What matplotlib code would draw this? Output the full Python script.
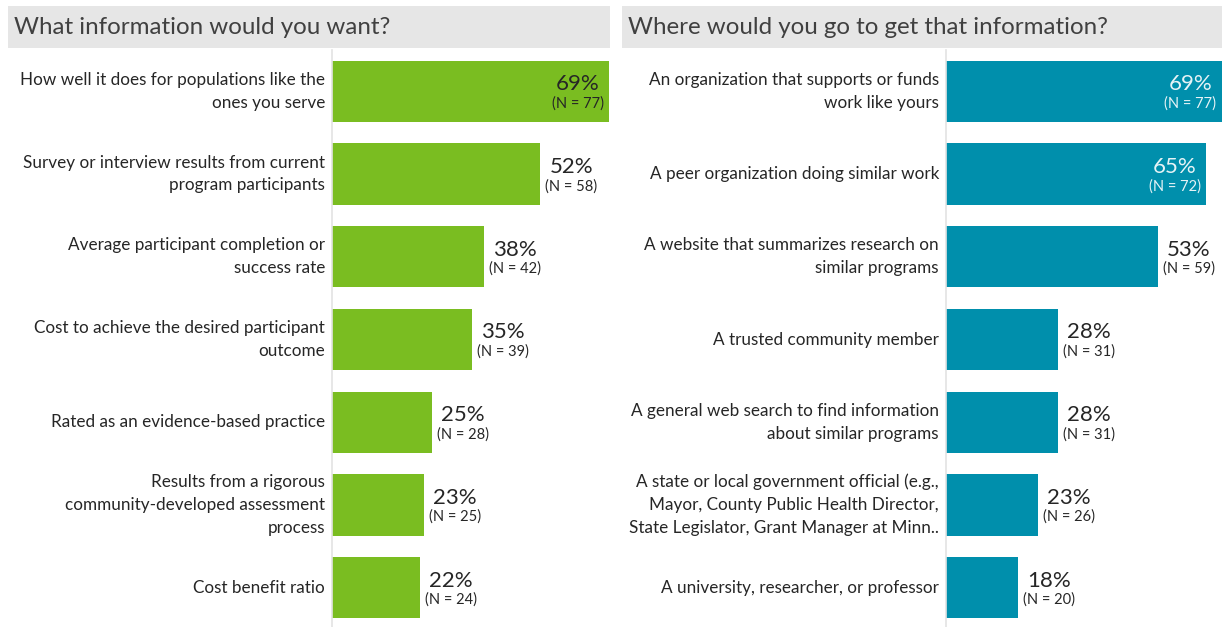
import matplotlib.pyplot as plt
from matplotlib.patches import Rectangle
from matplotlib.transforms import offset_copy

plt.rcParams['font.family'] = ['Lato', 'DejaVu Sans']

# Left panel data
want_labels = [
    "How well it does for populations like the\nones you serve",
    "Survey or interview results from current\nprogram participants",
    "Average participant completion or\nsuccess rate",
    "Cost to achieve the desired participant\noutcome",
    "Rated as an evidence-based practice",
    "Results from a rigorous\ncommunity-developed assessment\nprocess",
    "Cost benefit ratio",
]
want_pct = [69, 52, 38, 35, 25, 23, 22]
want_n = [77, 58, 42, 39, 28, 25, 24]

# Right panel data
where_labels = [
    "An organization that supports or funds\nwork like yours",
    "A peer organization doing similar work",
    "A website that summarizes research on\nsimilar programs",
    "A trusted community member",
    "A general web search to find information\nabout similar programs",
    "A state or local government official (e.g.,\nMayor, County Public Health Director,\nState Legislator, Grant Manager at Minn..",
    "A university, researcher, or professor",
]
where_pct = [69, 65, 53, 28, 28, 23, 18]
where_n = [77, 72, 59, 31, 31, 26, 20]

GREEN = '#7abd21'
TEAL = '#008fac'
TITLE_BG = '#e6e6e6'
TEXT = '#262626'

W, H = 1222, 627
fig = plt.figure(figsize=(W / 100, H / 100), dpi=100)


def draw_panel(x0, x1, labels, pct, n, color, title, tx0, tx1, inside_color):
    # title box
    fig.patches.append(Rectangle((tx0 / W, 1 - 48 / H), (tx1 - tx0) / W, 42 / H,
                                 transform=fig.transFigure, facecolor=TITLE_BG,
                                 edgecolor='none', zorder=0))
    fig.text((tx0 + 6) / W, 1 - 27 / H, title, fontsize=17.4, color='#404040',
             va='center', ha='left')

    ax = fig.add_axes([x0 / W, -2 / H, (x1 - x0) / W, (H - 50 + 2) / H])
    ypos = list(range(len(labels)))
    ax.barh(ypos, pct, height=0.74, color=color, edgecolor='none')
    ax.set_xlim(0, pct[0] * (x1 - x0) / (x1 - x0 - 0.5))
    ax.set_ylim(6.5, -0.5)
    for s in ['top', 'right', 'bottom']:
        ax.spines[s].set_visible(False)
    ax.spines['left'].set_color('#e3e3e3')
    ax.spines['left'].set_linewidth(1.2)
    ax.set_xticks([])
    ax.set_yticks([])

    lab_tr = offset_copy(ax.transData, fig=fig, x=-7, y=0, units='dots')
    for i, lab in enumerate(labels):
        ax.text(0, i, lab, transform=lab_tr, ha='right', va='center',
                multialignment='right', fontsize=12.3, color=TEXT, linespacing=1.52)

    for i, (p, k) in enumerate(zip(pct, n)):
        inside = p >= 60
        dx = -31 if inside else 31
        c = inside_color if inside else TEXT
        tr_p = offset_copy(ax.transData, fig=fig, x=dx, y=7, units='dots')
        tr_n = offset_copy(ax.transData, fig=fig, x=dx, y=-12, units='dots')
        ax.text(p, i, f"{p}%", transform=tr_p, ha='center', va='center',
                fontsize=16, color=c)
        ax.text(p, i, f"(N = {k})", transform=tr_n, ha='center', va='center',
                fontsize=10.5, color=c)
    return ax


draw_panel(332, 609, want_labels, want_pct, want_n, GREEN,
           "What information would you want?", 8, 610, TEXT)
draw_panel(946, 1222, where_labels, where_pct, where_n, TEAL,
           "Where would you go to get that information?", 622, 1222, '#e6f3f6')

fig.savefig('out.png', dpi=100)
